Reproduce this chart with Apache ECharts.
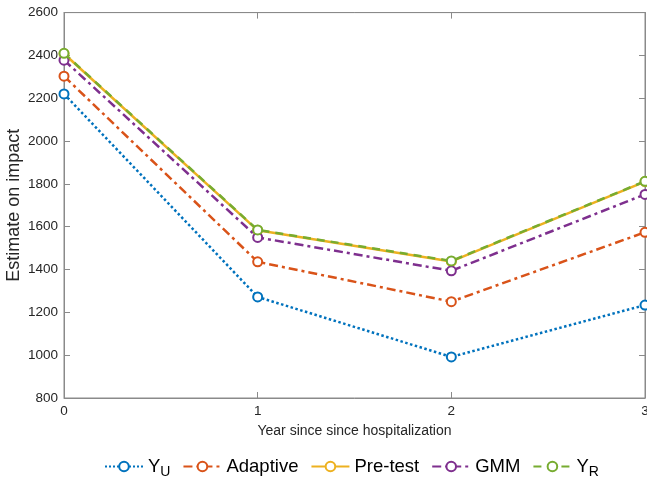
<!DOCTYPE html>
<html>
<head>
<meta charset="utf-8">
<script src="https://cdn.jsdelivr.net/npm/echarts@6/dist/echarts.min.js"></script>
<style>html,body{margin:0;padding:0;background:#fff}#c{width:647px;height:481px}</style>
</head>
<body>
<div id="c"></div>
<script>
const years = ['0', '1', '2', '3'];
const yTicks = [800, 1000, 1200, 1400, 1600, 1800, 2000, 2200, 2400, 2600];
const seriesNames = ['Y_U', 'Adaptive', 'Pre-test', 'GMM', 'Y_R'];
const yU = [2220, 1272, 992, 1234];
const adaptive = [2303, 1436, 1250, 1574];
const pretest = [2408, 1583, 1438, 1811];
const gmm = [2378, 1550, 1394, 1751];
const yR = [2410, 1585, 1440, 1812];

const colors = ['#0072BD', '#D95319', '#EDB120', '#7E2F8E', '#77AC30'];
const dashes = ['dotted', [9, 4, 3, 4], 'solid', [9, 4, 3, 4], [8, 6]];
const values = [yU, adaptive, pretest, gmm, yR];
const font = 'Liberation Sans, Arial, Helvetica, sans-serif';

const chart = echarts.init(document.getElementById('c'), null, {renderer: 'canvas'});
const axisGray = '#8a8a8a';
const textDark = '#262626';

const series = seriesNames.map((n, i) => ({
  name: n,
  type: 'line',
  data: values[i],
  symbol: 'emptyCircle',
  symbolSize: 9,
  showSymbol: true,
  lineStyle: {color: colors[i], width: 2.5, type: dashes[i]},
  itemStyle: {color: colors[i], borderColor: colors[i], borderWidth: 2.2},
  emphasis: {disabled: true},
  animation: false,
  z: 2 + i
}));

chart.setOption({
  animation: false,
  grid: {left: 64, right: 2, top: 12.6, bottom: 83, show: true, borderColor: axisGray, borderWidth: 1, containLabel: false, outerBoundsMode: 'none'},
  xAxis: [{
    type: 'category', data: years, boundaryGap: false,
    name: 'Year since since hospitalization', nameLocation: 'middle', nameGap: 26, nameMoveOverlap: false,
    nameTextStyle: {fontFamily: font, fontSize: 14, color: textDark},
    axisLine: {lineStyle: {color: axisGray}},
    axisTick: {inside: true, length: 6, lineStyle: {color: axisGray}},
    axisLabel: {fontFamily: font, fontSize: 13.5, color: textDark, margin: 6},
    splitLine: {show: false}
  }, {
    type: 'category', data: years, boundaryGap: false, position: 'top',
    axisLine: {lineStyle: {color: axisGray}},
    axisTick: {inside: true, length: 6, lineStyle: {color: axisGray}},
    axisLabel: {show: false}, splitLine: {show: false}
  }],
  yAxis: [{
    type: 'value', min: yTicks[0], max: yTicks[yTicks.length - 1], interval: 200,
    name: 'Estimate on impact', nameLocation: 'middle', nameGap: 41, nameRotate: 90, nameMoveOverlap: false,
    nameTextStyle: {fontFamily: font, fontSize: 18, color: textDark},
    axisLine: {show: true, lineStyle: {color: axisGray}},
    axisTick: {show: true, inside: true, length: 6, lineStyle: {color: axisGray}},
    axisLabel: {fontFamily: font, fontSize: 13.5, color: textDark, margin: 6, formatter: v => String(v)},
    splitLine: {show: false}
  }, {
    type: 'value', min: yTicks[0], max: yTicks[yTicks.length - 1], interval: 200, position: 'right',
    axisLine: {show: true, lineStyle: {color: axisGray}},
    axisTick: {show: true, inside: true, length: 6, lineStyle: {color: axisGray}},
    axisLabel: {show: false}, splitLine: {show: false}
  }],
  legend: {
    data: seriesNames,
    left: 99, top: 452,
    itemWidth: 38, itemHeight: 12, itemGap: 12,
    textStyle: {
      fontFamily: font, fontSize: 18.5, color: '#000',
      rich: {
        m: {fontFamily: font, fontSize: 18.5, color: '#000'},
        s: {fontFamily: font, fontSize: 14, color: '#000', padding: [12, 0, 0, 0]}
      }
    },
    formatter: function (n) {
      if (n.indexOf('_') > 0) {
        const p = n.split('_');
        return '{m|' + p[0] + '}{s|' + p[1] + '}';
      }
      return n;
    }
  },
  series: series
});
</script>
</body>
</html>
